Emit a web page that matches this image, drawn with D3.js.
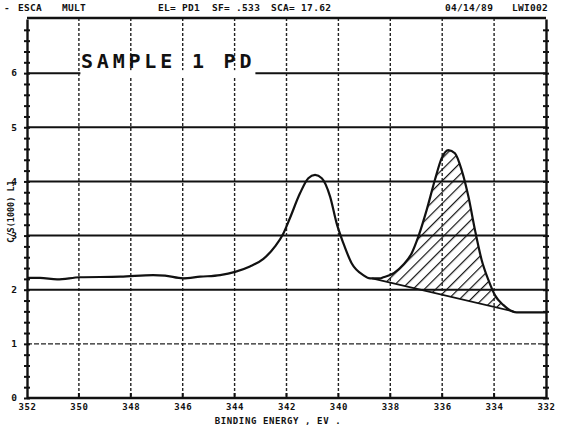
<!DOCTYPE html>
<html>
<head>
<meta charset="utf-8">
<script src="https://cdn.jsdelivr.net/npm/d3@7"></script>
<style>
  body { margin: 0; background: #fff; }
  svg { display: block; }
  text { font-family: "DejaVu Sans Mono", monospace; font-weight: bold; fill: #111; }
</style>
</head>
<body>
<svg id="chart" width="564" height="430"></svg>
<script>
// spectrum: binding energy (eV) vs counts (thousands)
const energy = [352.0, 351.5, 350.84, 349.96, 348.4, 347.14, 346.68, 345.99, 345.33, 344.56,
  343.98, 343.41, 342.89, 342.44, 342.12, 341.87, 341.48, 341.16, 340.9, 340.64,
  340.32, 340.07, 339.81, 339.49, 339.04, 338.78, 338.4, 338.27, 337.85, 337.5,
  337.18, 336.92, 336.6, 336.28, 336.02, 335.76, 335.51, 335.25, 334.99, 334.74,
  334.48, 334.22, 333.97, 333.65, 333.13, 332.0]
const counts = [2.22, 2.22, 2.19, 2.23, 2.24, 2.27, 2.26, 2.21, 2.24, 2.27,
  2.33, 2.43, 2.57, 2.8, 3.04, 3.32, 3.78, 4.06, 4.12, 4.06,
  3.72, 3.23, 2.86, 2.49, 2.27, 2.21, 2.21, 2.23, 2.31, 2.46,
  2.67, 2.98, 3.47, 4.03, 4.43, 4.58, 4.52, 4.21, 3.72, 3.11,
  2.55, 2.18, 1.9, 1.72, 1.58, 1.58]

// linear background under the hatched peak
const bgEnergy = [338.7, 333.26]
const bgCounts = [2.21, 1.6]

const xTicks = [352, 350, 348, 346, 344, 342, 340, 338, 336, 334, 332]
const yTicks = [0, 1, 2, 3, 4, 5, 6]
const solidGrid = [2, 3, 4, 5, 6]
const dashedGrid = [1]

const headerItems = ["-", "ESCA", "MULT", "EL= PD1", "SF= .533", "SCA= 17.62", "04/14/89", "LWI002"]
const sampleLabel = "SAMPLE 1 PD"
const xTitle = "BINDING ENERGY , EV ."
const yTitle = "C/S(1000) LJ"

const svg = d3.select("#chart")
const m = { left: 27, right: 546, top: 18, bottom: 398 }

const x = d3.scaleLinear().domain([352, 332]).range([m.left, m.right])
const y = d3.scaleLinear().domain([0, 7]).range([m.bottom, m.top + 1])

const pts = energy.map((e, i) => ({ e: e, c: counts[i] }))

// hatch pattern
const defs = svg.append("defs")
defs.append("pattern")
  .attr("id", "hatch")
  .attr("patternUnits", "userSpaceOnUse")
  .attr("width", 8).attr("height", 8)
  .attr("patternTransform", "rotate(45)")
  .append("line")
  .attr("x1", 0).attr("y1", 0).attr("x2", 0).attr("y2", 8)
  .attr("stroke", "#111").attr("stroke-width", 2.4)

// vertical grid (dotted)
svg.append("g").selectAll("line")
  .data(xTicks.slice(1, -1))
  .enter().append("line")
  .attr("x1", d => x(d)).attr("x2", d => x(d))
  .attr("y1", m.top).attr("y2", m.bottom)
  .attr("stroke", "#222").attr("stroke-width", 1.4)
  .attr("stroke-dasharray", "3,2")

// horizontal grid
svg.append("g").selectAll("line")
  .data(dashedGrid)
  .enter().append("line")
  .attr("x1", m.left).attr("x2", m.right)
  .attr("y1", d => y(d)).attr("y2", d => y(d))
  .attr("stroke", "#222").attr("stroke-width", 1.3)
  .attr("stroke-dasharray", "5,2")

svg.append("g").selectAll("line")
  .data(solidGrid)
  .enter().append("line")
  .attr("x1", m.left).attr("x2", m.right)
  .attr("y1", d => y(d)).attr("y2", d => y(d))
  .attr("stroke", "#111").attr("stroke-width", 2)

// sample label sits on a white patch that breaks the 6 line
const lab = svg.append("g")
lab.append("rect")
  .attr("x", x(350) + 1.5).attr("y", y(6) - 3)
  .attr("width", 175).attr("height", 6)
  .attr("fill", "#fff")
lab.append("text")
  .attr("x", 81).attr("y", y(6) - 5)
  .attr("font-size", 20)
  .style("letter-spacing", "3.8px")
  .text(sampleLabel)

// hatched area between spectrum and background
const bgY = d3.scaleLinear().domain(bgEnergy).range(bgCounts)
const inPeak = [{ e: bgEnergy[0], c: bgCounts[0] }]
  .concat(pts.filter(p => p.e < bgEnergy[0] && p.e > bgEnergy[1]))
  .concat([{ e: bgEnergy[1], c: bgCounts[1] }])
svg.append("path")
  .datum(inPeak)
  .attr("fill", "url(#hatch)")
  .attr("d", d3.area()
    .x(d => x(d.e))
    .y0(d => y(bgY(d.e)))
    .y1(d => y(d.c))
    .curve(d3.curveMonotoneX))

// background line
svg.append("line")
  .attr("x1", x(bgEnergy[0])).attr("y1", y(bgCounts[0]))
  .attr("x2", x(bgEnergy[1])).attr("y2", y(bgCounts[1]))
  .attr("stroke", "#111").attr("stroke-width", 1.8)

// spectrum
svg.append("path")
  .datum(pts)
  .attr("fill", "none")
  .attr("stroke", "#111")
  .attr("stroke-width", 2.2)
  .attr("stroke-linejoin", "round")
  .attr("d", d3.line().x(d => x(d.e)).y(d => y(d.c)).curve(d3.curveMonotoneX))

// frame
svg.append("line").attr("x1", m.left).attr("x2", m.right).attr("y1", m.top).attr("y2", m.top)
  .attr("stroke", "#111").attr("stroke-width", 2.4)
svg.append("line").attr("x1", m.left).attr("x2", m.right).attr("y1", m.bottom).attr("y2", m.bottom)
  .attr("stroke", "#111").attr("stroke-width", 2.4)

// left and right axes with minor ticks every 0.2
const minor = d3.range(0, 35).map(i => i / 5)
const yAxisL = d3.axisLeft(y).tickValues(minor).tickSize(3).tickSizeOuter(0).tickFormat("")
const yAxisR = d3.axisRight(y).tickValues(minor).tickSize(3).tickSizeOuter(0).tickFormat("")
const gl = svg.append("g").attr("transform", "translate(" + m.left + ",0)").call(yAxisL)
const gr = svg.append("g").attr("transform", "translate(" + m.right + ",0)").call(yAxisR)
gl.selectAll(".tick line").clone().attr("x2", 3)
gr.selectAll(".tick line").clone().attr("x2", -3)
svg.selectAll(".domain").attr("stroke", "#111").attr("stroke-width", 2.4)
svg.selectAll(".tick line").attr("stroke", "#111").attr("stroke-width", 2)

// x tick labels and short ticks on the bottom axis
const xAxisB = d3.axisBottom(x).tickValues(xTicks).tickSize(0).tickFormat(d3.format("d"))
const gb = svg.append("g").attr("transform", "translate(0," + m.bottom + ")").call(xAxisB)
gb.select(".domain").remove()
gb.selectAll("text").attr("font-size", 9).attr("dy", "0.95em").style("letter-spacing", "0.6px")
svg.append("g").selectAll("line")
  .data(xTicks.slice(1, -1))
  .enter().append("line")
  .attr("x1", d => x(d)).attr("x2", d => x(d))
  .attr("y1", m.bottom - 5).attr("y2", m.bottom)
  .attr("stroke", "#111").attr("stroke-width", 2)

// y tick labels
svg.append("g").selectAll("text")
  .data(yTicks)
  .enter().append("text")
  .attr("x", 17).attr("y", d => y(d)).attr("dy", "0.35em")
  .attr("text-anchor", "end")
  .attr("font-size", 9.5)
  .text(d => d)

// titles
svg.append("text")
  .attr("x", 278).attr("y", 424)
  .attr("text-anchor", "middle")
  .attr("font-size", 9)
  .style("letter-spacing", "0.6px")
  .text(xTitle)
svg.append("text")
  .attr("transform", "translate(14,212) rotate(-90)")
  .attr("text-anchor", "middle")
  .attr("font-size", 8.5)
  .text(yTitle)

// header line
const headerX = [4, 18, 62, 158, 212, 271, 445, 512]
svg.append("g").selectAll("text")
  .data(headerItems)
  .enter().append("text")
  .attr("x", (d, i) => headerX[i]).attr("y", 11)
  .attr("font-size", 9.5)
  .style("letter-spacing", "0.3px")
  .text(d => d)
</script>
</body>
</html>
